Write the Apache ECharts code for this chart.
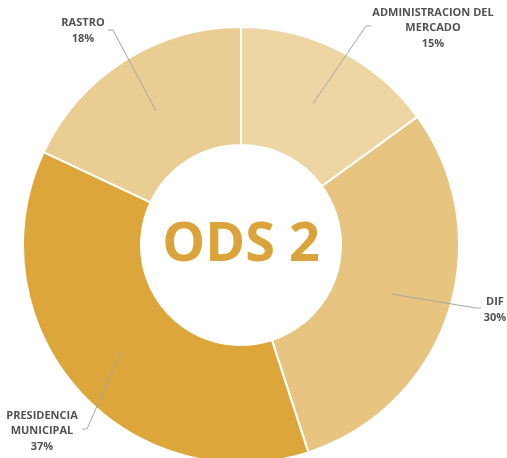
<!DOCTYPE html>
<html>
<head>
<meta charset="utf-8">
<script src="https://cdn.jsdelivr.net/npm/echarts@6/dist/echarts.min.js"></script>
<style>html,body{margin:0;padding:0;background:#fff;}#c{width:507px;height:458px;}</style>
</head>
<body>
<div id="c"></div>
<script>
var categories = ['ADMINISTRACION DEL\nMERCADO', 'DIF', 'PRESIDENCIA\nMUNICIPAL', 'RASTRO'];
var values = [15, 30, 37, 18];
var colors = ['#EDD6A4', '#E7C47F', '#DCA63B', '#E9CD92'];
var centerTitle = 'ODS 2';

// label text anchor (centre of text block) and leader-line elbow, per slice
var labelLayoutSpec = [
  {tx: 433, ty: 28, ex: 366, ey: 26, side: 1},
  {tx: 495, ty: 310, ex: 476, ey: 308, side: 1},
  {tx: 42, ty: 431, ex: 87, ey: 429, side: -1},
  {tx: 83, ty: 31, ex: 113, ey: 30, side: -1}
];
var CX = 241, CY = 245, R_IN = 100, R_OUT = 218;
var R_MID = (R_IN + R_OUT) / 2;

var data = categories.map(function (c, i) { return {name: c, value: values[i]}; });

var chart = echarts.init(document.getElementById('c'), null, {renderer: 'canvas'});
chart.setOption({
  animation: false,
  backgroundColor: '#ffffff',
  color: colors,
  graphic: [{
    type: 'text', x: CX, y: CY + 1, z: 10,
    style: {
      text: centerTitle,
      font: 'bold 54px "Open Sans", "Noto Sans", sans-serif',
      fill: '#DAA43A', align: 'center', verticalAlign: 'middle'
    }
  }],
  series: [{
    type: 'pie',
    center: [CX, CY],
    radius: [R_IN, R_OUT],
    startAngle: 90,
    clockwise: true,
    silent: true,
    itemStyle: {borderColor: '#ffffff', borderWidth: 2},
    label: {show: false},
    labelLine: {show: false},
    emphasis: {disabled: true},
    data: data
  }, {
    type: 'pie',
    center: [CX, CY],
    radius: [0, R_MID],
    startAngle: 90,
    clockwise: true,
    silent: true,
    z: 5,
    itemStyle: {color: 'rgba(0,0,0,0)', borderWidth: 0},
    label: {
      show: true,
      position: 'outside',
      formatter: function (p) { return p.name + '\n' + p.value + '%'; },
      fontFamily: '"Open Sans", "Noto Sans", sans-serif',
      fontWeight: 'bold',
      fontSize: 11,
      lineHeight: 15.5,
      color: '#525252',
      align: 'center',
      overflow: 'none'
    },
    labelLine: {show: true, lineStyle: {color: '#A6A6A6', width: 1}, length: 20, length2: 5},
    emphasis: {disabled: true},
    labelLayout: function (params) {
      var s = labelLayoutSpec[params.dataIndex];
      var p0 = params.labelLinePoints[0];
      return {
        x: s.tx, y: s.ty, align: 'center', verticalAlign: 'middle',
        labelLinePoints: [p0, [s.ex, s.ey], [s.ex + 5 * s.side, s.ey]]
      };
    },
    data: data
  }]
});
</script>
</body>
</html>
